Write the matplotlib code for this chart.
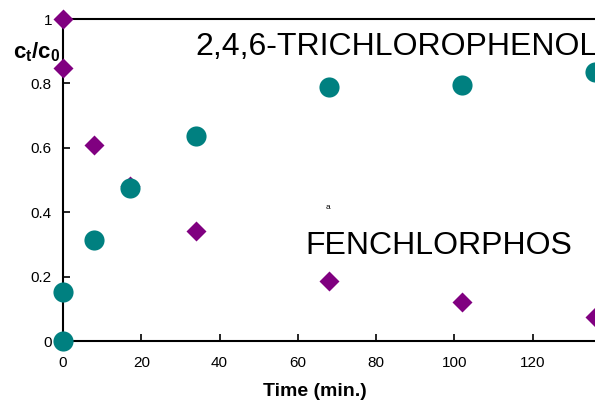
import matplotlib
matplotlib.use("Agg")
import matplotlib.pyplot as plt

plt.rcParams['font.family'] = ['Liberation Sans', 'DejaVu Sans']
plt.rcParams['mathtext.fontset'] = 'custom'
plt.rcParams['mathtext.bf'] = 'Liberation Sans:bold'

# data
time_tcp = [0, 0, 8, 17, 34, 68, 102, 136]
conc_tcp = [0.0, 0.152, 0.314, 0.475, 0.637, 0.789, 0.795, 0.835]
time_fen = [0, 0, 8, 17, 34, 68, 102, 136]
conc_fen = [1.0, 0.848, 0.609, 0.48, 0.342, 0.186, 0.121, 0.075]
x_ticks = [0, 20, 40, 60, 80, 100, 120]
y_ticks = [0, 0.2, 0.4, 0.6, 0.8, 1]
y_tick_labels = ['0', '0.2', '0.4', '0.6', '0.8', '1']

TEAL = '#008080'
PURPLE = '#800080'

fig = plt.figure(figsize=(5.95, 4.05), dpi=100)
ax = fig.add_axes([0.1059, 0.158, 0.921, 0.795])

ax.plot(time_fen, conc_fen, 'D', color=PURPLE, ms=10, mec='none', clip_on=False, zorder=3)
ax.plot(time_tcp, conc_tcp, 'o', color=TEAL, ms=14.5, mec='none', clip_on=False, zorder=4)

ax.set_xlim(0, 140)
ax.set_ylim(0, 1)
ax.set_xticks(x_ticks)
ax.set_yticks(y_ticks)
ax.set_yticklabels(y_tick_labels)
ax.tick_params(direction='in', labelsize=11, length=5, width=1.2)
ax.tick_params(axis='x', pad=11)
ax.tick_params(axis='y', pad=8)
for s in ax.spines.values():
    s.set_linewidth(1.5)

ax.set_xlabel('Time (min.)', fontsize=14, fontweight='bold')
ax.xaxis.set_label_coords(0.46, -0.13)
fig.text(0.022, 0.870, r'$\mathbf{c_t/c_0}$', fontsize=16, ha='left', va='center')

# the long label runs off the right edge in the reference too
ax.text(33.7, 0.913, '2,4,6-TRICHLOROPHENOL', fontsize=23, va='center', ha='left')
ax.text(61.8, 0.295, 'FENCHLORPHOS', fontsize=23, va='center', ha='left')
ax.text(67.7, 0.416, 'a', fontsize=6, ha='center', va='center')

fig.savefig('out.png', dpi=100)
